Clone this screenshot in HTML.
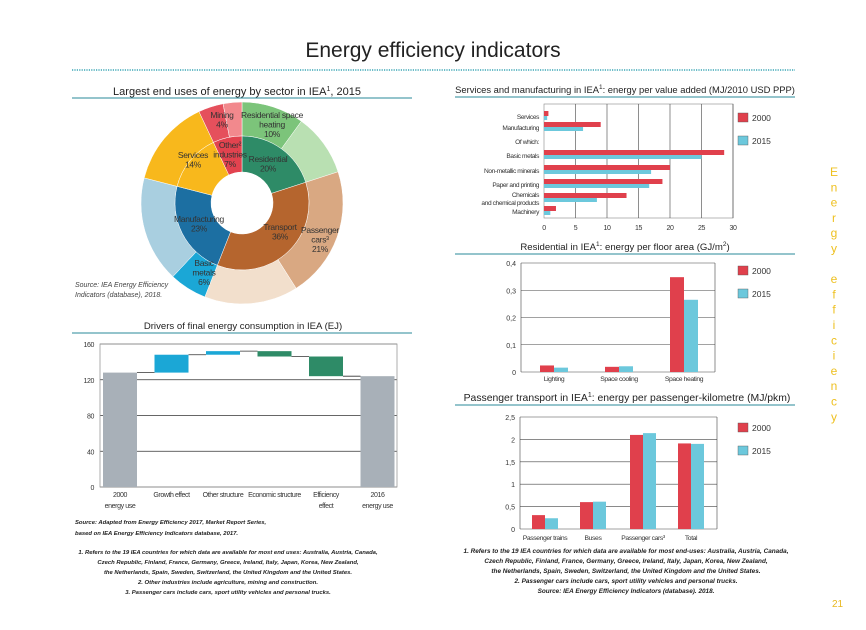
<!DOCTYPE html>
<html><head><meta charset="utf-8"><style>
body{margin:0;background:#fff;}
svg{display:block;font-family:"Liberation Sans",sans-serif;}
.t{font-size:11px;fill:#222;}
.s{font-size:7px;fill:#333;letter-spacing:-0.4px;}
.fn{font-size:6.6px;fill:#222;font-style:italic;font-weight:bold;}
.fl{font-size:5.9px;}
.fr{font-size:6.4px;}
</style></head><body>
<svg id="pg" width="866" height="630" viewBox="0 0 866 630">
<text x="433" y="57" text-anchor="middle" style="font-size:21px;fill:#222">Energy efficiency indicators</text>
<line x1="72" y1="70" x2="795" y2="70" stroke="#3aa5b5" stroke-width="1.5" stroke-dasharray="1.2 1.2"/>
<g id="side"></g>
<text x="832" y="607" style="font-size:10px;fill:#e8b820">21</text>

<text x="237" y="95" text-anchor="middle" class="t">Largest end uses of energy by sector in IEA<tspan font-size="7" dy="-4">1</tspan><tspan dy="4">, 2015</tspan></text>
<line x1="72" y1="98" x2="412" y2="98" stroke="#2a8a9a" stroke-width="1"/>
<g id="donut"></g>
<text x="75" y="287" style="font-size:7px;font-style:italic;fill:#444">Source: IEA Energy Efficiency</text>
<text x="75" y="297" style="font-size:7px;font-style:italic;fill:#444">Indicators (database), 2018.</text>

<text x="243" y="329" text-anchor="middle" class="t" style="font-size:9.6px">Drivers of final energy consumption in IEA (EJ)</text>
<line x1="72" y1="333" x2="412" y2="333" stroke="#2a8a9a"/>
<g id="wf"></g>
<text x="75" y="524" class="fn fl">Source: Adapted from Energy Efficiency 2017, Market Report Series,</text>
<text x="75" y="535" class="fn fl">based on IEA Energy Efficiency Indicators database, 2017.</text>
<g text-anchor="middle">
<text x="228" y="554" class="fn fl">1. Refers to the 19 IEA countries for which data are available for most end uses: Australia, Austria, Canada,</text>
<text x="228" y="564" class="fn fl">Czech Republic, Finland, France, Germany, Greece, Ireland, Italy, Japan, Korea, New Zealand,</text>
<text x="228" y="574" class="fn fl">the Netherlands, Spain, Sweden, Switzerland, the United Kingdom and the United States.</text>
<text x="228" y="584" class="fn fl">2. Other industries include agriculture, mining and construction.</text>
<text x="228" y="594" class="fn fl">3. Passenger cars include cars, sport utility vehicles and personal trucks.</text>
</g>

<text x="625" y="93" text-anchor="middle" class="t" style="font-size:9.4px">Services and manufacturing in IEA<tspan font-size="6.5" dy="-4">1</tspan><tspan dy="4">: energy per value added (MJ/2010 USD PPP)</tspan></text>
<line x1="455" y1="97" x2="795" y2="97" stroke="#2a8a9a"/>
<g id="hb"></g>

<text x="625" y="250" text-anchor="middle" class="t" style="font-size:9.6px">Residential in IEA<tspan font-size="6.5" dy="-4">1</tspan><tspan dy="4">: energy per floor area (GJ/m</tspan><tspan font-size="6.5" dy="-4">2</tspan><tspan dy="4">)</tspan></text>
<line x1="455" y1="254" x2="795" y2="254" stroke="#2a8a9a"/>
<g id="rb"></g>

<text x="627" y="401" text-anchor="middle" class="t" style="font-size:10.4px">Passenger transport in IEA<tspan font-size="7" dy="-4">1</tspan><tspan dy="4">: energy per passenger-kilometre (MJ/pkm)</tspan></text>
<line x1="455" y1="405" x2="795" y2="405" stroke="#2a8a9a"/>
<g id="tb"></g>
<g text-anchor="middle">
<text x="626" y="553" class="fn fr">1. Refers to the 19 IEA countries for which data are available for most end-uses: Australia, Austria, Canada,</text>
<text x="626" y="563" class="fn fr">Czech Republic, Finland, France, Germany, Greece, Ireland, Italy, Japan, Korea, New Zealand,</text>
<text x="626" y="573" class="fn fr">the Netherlands, Spain, Sweden, Switzerland, the United Kingdom and the United States.</text>
<text x="626" y="583" class="fn fr">2. Passenger cars include cars, sport utility vehicles and personal trucks.</text>
<text x="626" y="593" class="fn fr">Source: IEA Energy Efficiency Indicators (database). 2018.</text>
</g>
</svg>
<script>
// ---- data ----
const innerLabels=["Residential","Transport","Manufacturing","Services","Other industries"];
const innerValues=[20,36,23,14,7];
const outerLabels=["Residential space heating","Residential other","Passenger cars","Transport other","Basic metals","Manufacturing other","Services","Mining","Other industries other"];
const outerValues=[10,10,21,15,6,17,14,4,3];
const wfCategories=["2000|energy use","Growth effect","Other structure","Economic structure","Efficiency|effect","2016|energy use"];
const wfDeltas=[128,20,4,-6,-22,124];
const wfTicks=[0,40,80,120,160];
const hbCategories=["Services","Manufacturing","Of which:","Basic metals","Non-metallic minerals","Paper and printing","Chemicals|and chemical products","Machinery"];
const hb2000=[0.7,9,null,28.6,20,18.8,13.1,1.9];
const hb2015=[0.5,6.2,null,25,17,16.7,8.4,1.0];
const hbTicks=[0,5,10,15,20,25,30];
const resCategories=["Lighting","Space cooling","Space heating"];
const res2000=[0.024,0.019,0.348];
const res2015=[0.016,0.021,0.265];
const resTicks=["0","0,1","0,2","0,3","0,4"];
const trCategories=["Passenger trains","Buses","Passenger cars³","Total"];
const tr2000=[0.31,0.6,2.1,1.91];
const tr2015=[0.24,0.61,2.14,1.9];
const trTicks=["0","0,5","1","1,5","2","2,5"];
const sideText="Energy efficiency";

const NS="http://www.w3.org/2000/svg";
function mk(p,tag,a,txt){const e=document.createElementNS(NS,tag);for(const k in a)e.setAttribute(k,a[k]);if(txt!=null)e.textContent=txt;p.appendChild(e);return e;}
const RED="#e0404c",CY="#6cc8dc";

const side=document.getElementById('side');
[...sideText].forEach((ch,i)=>{if(ch===' ')return;const t=mk(side,'text',{x:834,y:176+i*15.3,'text-anchor':'middle','font-size':12,fill:'#eec020'},ch);

});

const dg=document.getElementById('donut');const cx=242,cy=203;
function arc(r0,r1,a0,a1,fill){const p=(r,a)=>{const t=(a-90)*Math.PI/180;return [cx+r*Math.cos(t),cy+r*Math.sin(t)];};
const lg=(a1-a0)>180?1:0;const A=p(r1,a0),B=p(r1,a1),C=p(r0,a1),D=p(r0,a0);
return mk(dg,'path',{d:`M${A}A${r1},${r1} 0 ${lg} 1 ${B}L${C}A${r0},${r0} 0 ${lg} 0 ${D}Z`,fill:fill,stroke:'#fff','stroke-width':0.5});}
const outerColors=["#7cc47a","#b9e0b2","#d9a882","#f2dfcc","#1ba7d6","#a9cfe0","#f8b81c","#e5505c","#f2898d"];
const innerColors=["#2e8b67","#b5652e","#1c6fa2","#f8b81c","#e2434f"];
let a=0;const ot=outerValues.reduce((s,v)=>s+v,0);
outerValues.forEach((v,i)=>{const a1=a+v/ot*360;const e=arc(67,101,a,a1,outerColors[i]);

a=a1;});
a=0;const it=innerValues.reduce((s,v)=>s+v,0);
innerValues.forEach((v,i)=>{const a1=a+v/it*360;const e=arc(31,67,a,a1,innerColors[i]);

a=a1;});
const dl=[["Mining|4%",222,118],["Residential space|heating|10%",272,118],["Other²|industries|7%",230,148],["Services|14%",193,158],["Residential|20%",268,162],["Manufacturing|23%",199,222],["Transport|36%",280,230],["Passenger|cars³|21%",320,233],["Basic|metals|6%",204,266]];
dl.forEach(d=>{d[0].split('|').forEach((l,j)=>{const t=mk(dg,'text',{x:d[1],y:d[2]+j*9.5,'text-anchor':'middle','font-size':8.5,fill:'#333','letter-spacing':'-0.3'},l);

});});

const wg=document.getElementById('wf');
const wy=v=>487-v*(143/160);const wx0=103,wstep=51.5,bw=34;
wfTicks.forEach(t=>{const l=mk(wg,'line',{x1:100,x2:397,y1:wy(t),y2:wy(t),stroke:'#333','stroke-width':0.8});


const tx=mk(wg,'text',{x:94,y:wy(t)+3,'text-anchor':'end',class:'s'},t);

});
mk(wg,'rect',{x:100,y:wy(160),width:297,height:wy(0)-wy(160),fill:'none',stroke:'#999','stroke-width':0.8});
let run=0;
wfDeltas.forEach((d,i)=>{const x=wx0+i*wstep;let y0,y1,col;
if(i===0||i===wfDeltas.length-1){y0=0;y1=d;col="#a8b0b8";run=d;}else{y0=run;y1=run+d;run=y1;col=d>0?"#1ba7d6":"#2e8b67";}
const lo=Math.min(y0,y1),hi=Math.max(y0,y1);
const r=mk(wg,'rect',{x:x,y:wy(hi),width:bw,height:wy(lo)-wy(hi),fill:col});


if(i<wfDeltas.length-1){const l=mk(wg,'line',{x1:x+bw,x2:x+wstep,y1:wy(y1),y2:wy(y1),stroke:'#333','stroke-width':0.8});

}
wfCategories[i].split('|').forEach((s,j)=>{const t=mk(wg,'text',{x:x+bw/2,y:497+j*11,'text-anchor':'middle',class:'s','font-size':6.6},s);

});});

function legend(g,y){[[RED,'2000'],[CY,'2015']].forEach((p,k)=>{const r=mk(g,'rect',{x:738,y:y+k*23,width:10,height:9,fill:p[0],stroke:'#555','stroke-width':0.4});


const t=mk(g,'text',{x:752,y:y+8+k*23,'font-size':8.5,fill:'#333'},p[1]);

});}

const hg=document.getElementById('hb');
const hx=v=>544+v*(189/30);const rowY=[116,127,141,155,170,184,198,211];
mk(hg,'rect',{x:544,y:104,width:189,height:114,fill:'none',stroke:'#888','stroke-width':0.6});
hbTicks.forEach(t=>{if(t>0){const l=mk(hg,'line',{x1:hx(t),x2:hx(t),y1:104,y2:218,stroke:'#444','stroke-width':0.6});

}
const tx=mk(hg,'text',{x:hx(t),y:230,'text-anchor':'middle',class:'s'},t);

});
hbCategories.forEach((c,i)=>{const ls=c.split('|');ls.forEach((s,j)=>{const t=mk(hg,'text',{x:539,y:rowY[i]+3-(ls.length-1)*4+j*8,'text-anchor':'end','font-size':6.6,fill:'#333','letter-spacing':'-0.4'},s);

});
if(hb2000[i]!=null){const r=mk(hg,'rect',{x:544,y:rowY[i]-5,width:hx(hb2000[i])-544,height:5,fill:RED});

}
if(hb2015[i]!=null){const r=mk(hg,'rect',{x:544,y:rowY[i],width:hx(hb2015[i])-544,height:4,fill:CY});

}});
legend(hg,113);

function vbars(id,cats,d0,d1,ticks,max,x0,x1,yTop,yBot,cx,bwid,labY){const g=document.getElementById(id);
const y=v=>yBot-v*(yBot-yTop)/max;
ticks.forEach((t,i)=>{const v=max*i/(ticks.length-1);const l=mk(g,'line',{x1:x0,x2:x1,y1:y(v),y2:y(v),stroke:'#444','stroke-width':0.6});


const tx=mk(g,'text',{x:x0-5,y:y(v)+3,'text-anchor':'end','font-size':7,fill:'#333'},t);

});
mk(g,'line',{x1:x0,x2:x0,y1:yTop,y2:yBot,stroke:'#444','stroke-width':0.6});
mk(g,'line',{x1:x1,x2:x1,y1:yTop,y2:yBot,stroke:'#444','stroke-width':0.6});
cats.forEach((c,i)=>{const r=mk(g,'rect',{x:cx[i]-bwid,y:y(d0[i]),width:bwid,height:yBot-y(d0[i]),fill:RED});


const r2=mk(g,'rect',{x:cx[i],y:y(d1[i]),width:bwid,height:yBot-y(d1[i]),fill:CY});


const t=mk(g,'text',{x:cx[i],y:labY,'text-anchor':'middle','font-size':6.8,fill:'#333','letter-spacing':'-0.4'},c);

});}
vbars('rb',resCategories,res2000,res2015,resTicks,0.4,521,715,263,372,[554,619,684],14,381);
legend(document.getElementById('rb'),266);
vbars('tb',trCategories,tr2000,tr2015,trTicks,2.5,520,717,417,529,[545,593,643,691],13,540);
legend(document.getElementById('tb'),423);
</script>
</body></html>
